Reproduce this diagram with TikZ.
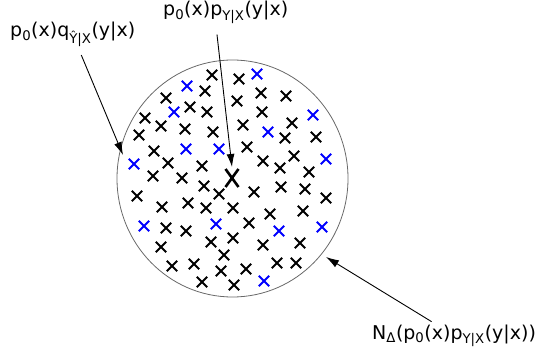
\documentclass[tikz,border=0pt]{standalone}
\usepackage{fontspec}
\setmainfont{DejaVu Sans}
\usetikzlibrary{arrows.meta,positioning,calc}
\definecolor{markblue}{RGB}{0,0,255}
\definecolor{rimgray}{RGB}{105,105,105}

\begin{document}
\begin{tikzpicture}[x=1pt,y=-1pt,
  lbl/.style={inner sep=0pt,anchor=base west,font=\fontsize{19}{22}\selectfont},
  arr/.style={-{Latex[length=13pt,width=8pt]},line width=0.9pt},
  crs/.style={line width=1.8pt}]
  \useasboundingbox (0,0) rectangle (539,356);
  % neighbourhood
  \draw[rimgray,line width=0.8pt] (232.5,178.5) ellipse [x radius=115.5, y radius=118.5];
  % samples
  \foreach \cx/\cy in {212/75,205/91,166/98,190/107,207/112,145/118,161/126,185/129,213/132,139/135,
      154/151,239/79,261/93,286/96,237/101,262/112,243/125,292/123,285/138,316/137,247/147,263/161,
      294/156,168/163,202/166,153/176,182/178,204/186,219/194,137/196,162/207,188/203,206/208,233/208,
      280/168,309/172,281/187,305/189,254/192,326/198,270/214,303/211,249/223,166/228,186/231,211/242,
      233/238,263/245,300/243,161/247,224/255,172/266,194/264,221/271,246/269,277/263,296/263,202/282,234/285}
    \draw[crs] (\cx-5.2,\cy-5.2) -- (\cx+5.2,\cy+5.2) (\cx-5.2,\cy+5.2) -- (\cx+5.2,\cy-5.2);
  \foreach \cx/\cy in {187/86,174/112,186/149,219/149,257/74,313/115,268/132,326/159,134/164,
      144/226,216/224,279/231,322/227,264/281}
    \draw[crs,markblue] (\cx-5.2,\cy-5.2) -- (\cx+5.2,\cy+5.2) (\cx-5.2,\cy+5.2) -- (\cx+5.2,\cy-5.2);
  % true point
  \coordinate (bigx) at (232,178);
  \draw[line width=2.6pt] ($(bigx)+(-6.5,-9)$) -- ($(bigx)+(6.5,9)$) ($(bigx)+(-6.5,9)$) -- ($(bigx)+(6.5,-9)$);
  % labels
  \node[lbl] (lblq) at (10,37) {p\textsubscript{0}(x)q\textsubscript{Ŷ|X}(y|x)};
  \node[lbl] (lblp) at (163,16) {p\textsubscript{0}(x)p\textsubscript{Y|X}(y|x)};
  \node[lbl] (lbln) at (372,339) {N\textsubscript{Δ}(p\textsubscript{0}(x)p\textsubscript{Y|X}(y|x))};
  \coordinate (tipq) at (123,155);
  \coordinate (tipp) at (232,167);
  \coordinate (tipn) at (326,257);
  \draw[arr,shorten <=9pt] (lblq) -- (tipq);
  \draw[arr,shorten <=11pt] ([xshift=-10pt]lblp.south) -- (tipp);
  \draw[arr,shorten <=5pt] (lbln) -- (tipn);
\end{tikzpicture}
\end{document}
